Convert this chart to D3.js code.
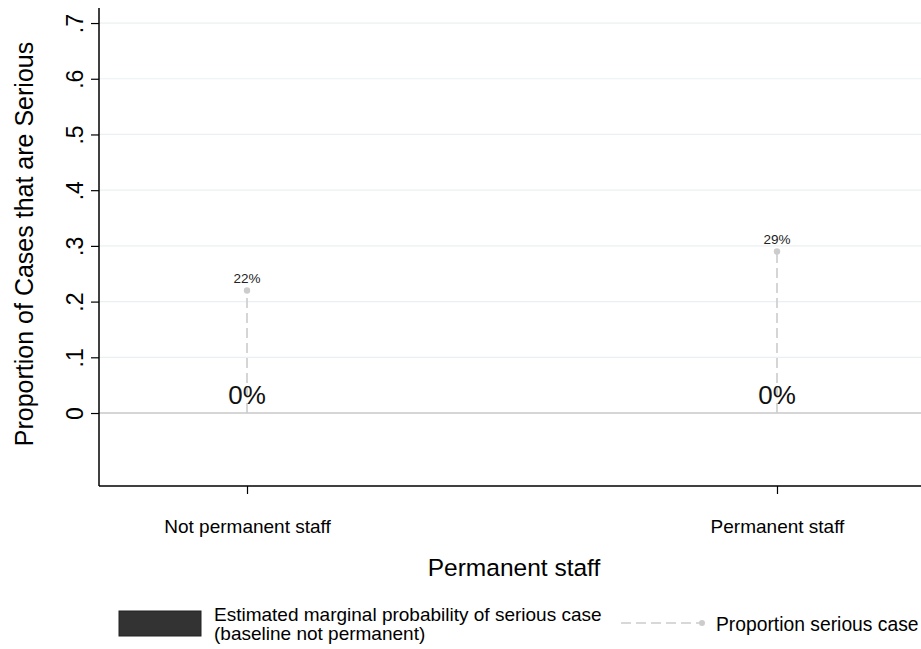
<!DOCTYPE html>
<html><head><meta charset="utf-8">
<script src="https://cdn.jsdelivr.net/npm/d3@7"></script>
<style>body{margin:0;background:#fff;} svg{display:block;font-family:"Liberation Sans",Arial,sans-serif;}</style>
</head><body>
<svg id="c" width="921" height="649"></svg>
<script>
const categories = ["Not permanent staff", "Permanent staff"];
const marginalProb = [0, 0];
const proportionSerious = [0.22, 0.29];
const yTicks = [0, 0.1, 0.2, 0.3, 0.4, 0.5, 0.6, 0.7];
const yTickLabels = ["0", ".1", ".2", ".3", ".4", ".5", ".6", ".7"];

(function () {
const svg = d3.select("#c");
const pLeft = 99, pRight = 921, pTop = 8, pBottom = 486;
const x = d3.scalePoint().domain(categories).range([101, 923]).padding(0.2755);
const y = d3.scaleLinear().domain([-0.131, 0.727]).range([pBottom, pTop]);

// gridlines
svg.append("g").selectAll("line").data(yTicks.filter(d => d !== 0)).join("line")
  .attr("x1", pLeft).attr("x2", pRight).attr("y1", d => y(d)).attr("y2", d => y(d))
  .attr("stroke", "#eaf0f2").attr("stroke-width", 1.2);
// zero line
svg.append("line").attr("x1", pLeft).attr("x2", pRight).attr("y1", y(0)).attr("y2", y(0))
  .attr("stroke", "#c8c8c8").attr("stroke-width", 1.5);

// bars (zero height)
svg.append("g").selectAll("rect").data(marginalProb).join("rect")
  .attr("x", (d, i) => x(categories[i]) - 40).attr("width", 80)
  .attr("y", d => Math.min(y(d), y(0))).attr("height", d => Math.abs(y(d) - y(0)))
  .attr("fill", "#333");

// dropped lines
svg.append("g").selectAll("line").data(proportionSerious).join("line")
  .attr("x1", (d, i) => x(categories[i])).attr("x2", (d, i) => x(categories[i]))
  .attr("y1", y(0)).attr("y2", d => y(d))
  .attr("stroke", "#cccccc").attr("stroke-width", 1.6).attr("stroke-dasharray", "10,5");
svg.append("g").selectAll("circle").data(proportionSerious).join("circle")
  .attr("cx", (d, i) => x(categories[i])).attr("cy", d => y(d)).attr("r", 3.2)
  .attr("fill", "#cccccc");
svg.append("g").selectAll("text").data(proportionSerious).join("text")
  .attr("x", (d, i) => x(categories[i])).attr("y", d => y(d) - 7)
  .attr("text-anchor", "middle").attr("font-size", 13.5).attr("fill", "#222")
  .text(d => Math.round(d * 100) + "%");

// bar labels
svg.append("g").selectAll("text").data(marginalProb).join("text")
  .attr("x", (d, i) => x(categories[i])).attr("y", d => y(d) - 9)
  .attr("text-anchor", "middle").attr("font-size", 26).attr("fill", "#111")
  .text(d => Math.round(d * 100) + "%");

// y axis
const yAxis = d3.axisLeft(y).tickValues(yTicks).tickSize(8).tickPadding(6)
  .tickFormat((d, i) => yTickLabels[i]);
const ga = svg.append("g").attr("transform", `translate(${pLeft},0)`).call(yAxis);
ga.select(".domain").attr("d", `M0,${pTop}V${pBottom}`).attr("stroke", "#000").attr("stroke-width", 1.5);
ga.selectAll(".tick line").attr("stroke", "#000").attr("stroke-width", 1.2);
ga.selectAll(".tick text").attr("font-size", 23).attr("fill", "#000")
  .attr("font-family", "Liberation Sans, Arial, sans-serif")
  .attr("transform", "rotate(-90)").attr("x", 0).attr("y", -16).attr("dy", "0")
  .attr("text-anchor", "middle");

// x axis
const xAxis = d3.axisBottom(x).tickSize(8).tickPadding(26);
const gx = svg.append("g").attr("transform", `translate(0,${pBottom})`).call(xAxis);
gx.select(".domain").attr("d", `M${pLeft},0H${pRight}`).attr("stroke", "#000").attr("stroke-width", 1.5);
gx.selectAll(".tick line").attr("stroke", "#000").attr("stroke-width", 1.2);
gx.selectAll(".tick text").attr("font-size", 19).attr("fill", "#000")
  .attr("font-family", "Liberation Sans, Arial, sans-serif");

// axis titles
svg.append("text").attr("x", 514).attr("y", 576).attr("text-anchor", "middle")
  .attr("font-size", 24.5).attr("fill", "#000").text("Permanent staff");
svg.append("text").attr("transform", `translate(33,244) rotate(-90)`)
  .attr("text-anchor", "middle").attr("font-size", 25).attr("fill", "#000")
  .text("Proportion of Cases that are Serious");

// legend
const lg = svg.append("g");
lg.append("rect").attr("x", 119).attr("y", 611).attr("width", 82).attr("height", 25)
  .attr("fill", "#333").attr("stroke", "#222");
lg.append("text").attr("x", 214).attr("y", 621).attr("font-size", 19).attr("fill", "#000")
  .text("Estimated marginal probability of serious case");
lg.append("text").attr("x", 214).attr("y", 640).attr("font-size", 19).attr("fill", "#000")
  .text("(baseline not permanent)");
lg.append("line").attr("x1", 621).attr("x2", 702).attr("y1", 623).attr("y2", 623)
  .attr("stroke", "#cccccc").attr("stroke-width", 1.6).attr("stroke-dasharray", "10,5");
lg.append("circle").attr("cx", 702).attr("cy", 623).attr("r", 3).attr("fill", "#cccccc");
lg.append("text").attr("x", 716).attr("y", 631).attr("font-size", 19.3).attr("fill", "#000")
  .text("Proportion serious case");
})();
</script>
</body></html>
